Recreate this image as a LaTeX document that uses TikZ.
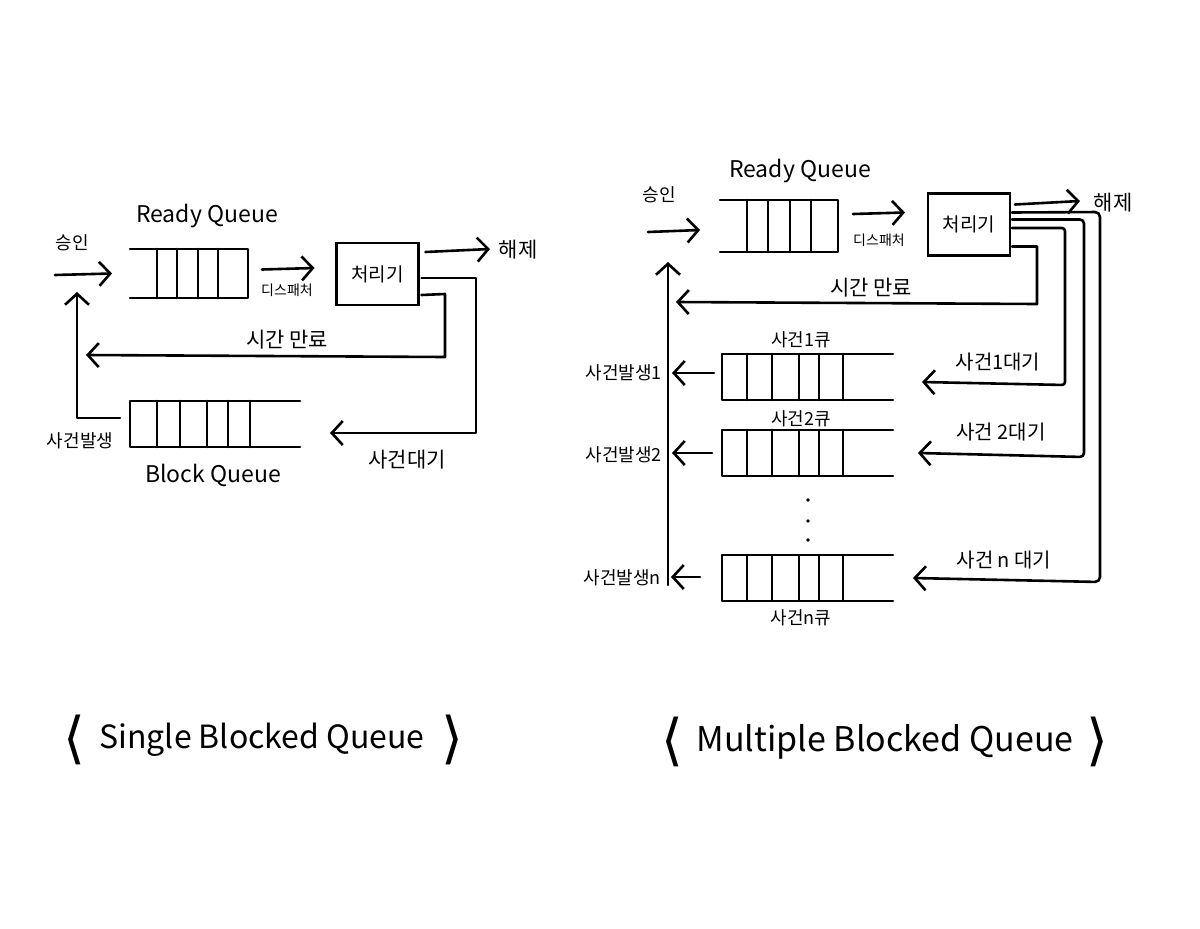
\documentclass[tikz,border=0pt]{standalone}
\usepackage{fontspec}
\setmainfont{Noto Sans CJK KR}
\newfontfamily\krfont{Noto Sans CJK KR}
\newfontfamily\brfont{DejaVu Sans}
\usetikzlibrary{arrows.meta,calc}
\tikzset{
  ln/.style={line width=2.6pt, line cap=round, line join=round},
  arr/.style={ln, -{Straight Barb[length=11pt,width=24pt]}},
  qnode/.style={draw=none, inner sep=0pt, outer sep=0pt, anchor=north west},
  proc/.style={draw, line width=2.6pt, inner sep=0pt, outer sep=0pt, minimum width=82, minimum height=62,
    font=\krfont\fontsize{19}{21}\selectfont},
  lbl/.style={font=\krfont\fontsize{18}{20}\selectfont, inner sep=0pt},
  wlbl/.style={font=\krfont\fontsize{20}{22}\selectfont, inner sep=0pt},
  biglbl/.style={font=\krfont\fontsize{21}{23}\selectfont, inner sep=0pt},
  small/.style={font=\krfont\fontsize{14}{16}\selectfont, inner sep=0pt},
  qtitle/.style={font=\krfont\fontsize{23}{26}\selectfont, inner sep=0pt},
  ttl/.style={font=\krfont\fontsize{32}{36}\selectfont, inner sep=0pt},
  brk/.style={font=\brfont\fontsize{56}{60}\selectfont, inner sep=0pt},
}
\begin{document}
\begin{tikzpicture}[x=1pt,y=-1pt]
\useasboundingbox[fill=white] (0,0) rectangle (1200,929);

% ================= LEFT : Single Blocked Queue =================
\node[qnode, minimum width=118, minimum height=49] (rq1) at (130,249) {};
\draw[ln] (rq1.north west) -- (rq1.north east) -- (rq1.south east) -- (rq1.south west);
\foreach \d in {27,47,68,88}
  \draw[ln] ($(rq1.north west)+(\d,0)$) -- ($(rq1.south west)+(\d,0)$);
\node[qtitle] (rq1t) at (207,216) {Ready Queue};

\node[proc] (proc1) at (377.5,274) {처리기};

\node[qnode, minimum width=170, minimum height=46] (bq1) at (130,401) {};
\draw[ln] (bq1.north east) -- (bq1.north west) -- (bq1.south west) -- (bq1.south east);
\foreach \d in {27,50,77,98,120}
  \draw[ln] ($(bq1.north west)+(\d,0)$) -- ($(bq1.south west)+(\d,0)$);
\node[qtitle] (bq1t) at (213,475) {Block Queue};

\coordinate (in1) at (55,275);
\coordinate (rel1) at (490,249);
\coordinate (te1) at (86,355);

\node[lbl] (adm1) at (72,243) {승인};
\draw[arr] (in1) -- ($(rq1.west)+(-18,0)$);
\draw[arr] ($(rq1.east)+(14,-4)$) -- ($(proc1.west)+(-22,-6)$);
\node[small] (disp1) at (287,290) {디스패처};
\draw[arr] ($(proc1.north east)+(7,9)$) -- (rel1);
\node[biglbl] (rel1t) at (518,250) {해제};
\draw[arr] ($(proc1.south east)+(3,-10)$) -- (445,294) -- (445,357) -- (te1);
\node[biglbl] (te1t) at (287,340) {시간 만료};
\draw[arr] ($(proc1.east)+(3,4)$) -- (476,278) -- (476,433) -- ($(bq1.east)+(30,9)$);
\node[biglbl] (wt1t) at (407,460) {사건대기};
\draw[arr] ($(bq1.west)+(-10,-6)$) -- (77,418) -- ($(in1)+(22,17)$);
\node[lbl] (oc1t) at (80,441) {사건발생};

% ================= RIGHT : Multiple Blocked Queue =================
\node[qnode, minimum width=118, minimum height=52] (rq2) at (720,200) {};
\draw[ln] (rq2.north west) -- (rq2.north east) -- (rq2.south east) -- (rq2.south west);
\foreach \d in {27,48,70,91}
  \draw[ln] ($(rq2.north west)+(\d,0)$) -- ($(rq2.south west)+(\d,0)$);
\node[qtitle] (rq2t) at (800,171) {Ready Queue};

\node[proc] (proc2) at (969,224.5) {처리기};

\foreach \q/\yy in {eq1/354, eq2/430, eqn/555}{
  \node[qnode, minimum width=171, minimum height=46] (\q) at (722,\yy) {};
  \draw[ln] (\q.north east) -- (\q.north west) -- (\q.south west) -- (\q.south east);
  \foreach \d in {25,50,77,97,121}
    \draw[ln] ($(\q.north west)+(\d,0)$) -- ($(\q.south west)+(\d,0)$);
}
\node[lbl] (eq1t) at (801,340) {사건1큐};
\node[lbl] (eq2t) at (801,419) {사건2큐};
\node[lbl] (eqnt) at (801,618) {사건n큐};
\fill (808,500) circle (1.8pt);
\fill (808,521) circle (1.8pt);
\fill (808,540) circle (1.8pt);

\coordinate (in2) at (648,232);
\coordinate (rel2) at (1080,201);
\coordinate (te2) at (676,302);
\coordinate (mv0) at (668,585);
\coordinate (mv1) at (668,262);

\node[lbl] (adm2) at (659,195) {승인};
\draw[arr] (in2) -- ($(rq2.west)+(-20,4)$);
\draw[arr] ($(rq2.east)+(15,-12)$) -- ($(proc2.west)+(-23,-12)$);
\node[small] (disp2) at (879,240) {디스패처};
\draw[arr] ($(proc2.east)+(5,-20)$) -- (rel2);
\node[biglbl] (rel2t) at (1113,203) {해제};

% lines from processor
\draw[arr, rounded corners=5pt] ($(proc2.east)+(2,-12)$) -- (1100,212) -- (1100,582) -- ($(eqn.east)+(20,0)$);
\draw[arr, rounded corners=4pt] ($(proc2.east)+(2,-5)$) -- (1084,219.5) -- (1084,457) -- ($(eq2.east)+(25,0)$);
\draw[arr, rounded corners=3pt] ($(proc2.east)+(2,3.5)$) -- (1065,228) -- (1065,385) -- ($(eq1.east)+(29,5)$);
\draw[arr] ($(proc2.east)+(2,22)$) -- (1037,246.5) -- (1037,304) -- (te2);
\node[biglbl] (te2t) at (871,288) {시간 만료};
\node[wlbl] (w1t) at (998,362) {사건1대기};
\node[wlbl] (w2t) at (1001,432) {사건 2대기};
\node[wlbl] (wnt) at (1004,560) {사건 n 대기};

% main return line
\draw[arr] (mv0) -- (mv1);
\draw[arr] ($(eq1.west)+(-8,-4)$) -- ($(eq1.west)+(-50,-4)$);
\draw[arr] ($(eq2.west)+(-10,0)$) -- ($(eq2.west)+(-50,0)$);
\draw[arr] ($(eqn.west)+(-22,-1)$) -- ($(eqn.west)+(-51,-1)$);
\node[lbl, anchor=east] (o1t) at (662,373) {사건발생1};
\node[lbl, anchor=east] (o2t) at (662,455) {사건발생2};
\node[lbl, anchor=east] (ont) at (661,578) {사건발생n};

% ================= Titles =================
\node[brk] (t1l) at (74,740) {⟨};
\node[ttl] (t1) at (262,740) {Single Blocked Queue};
\node[brk] (t1r) at (452,740) {⟩};
\node[brk] (t2l) at (672,742) {⟨};
\node[ttl, font=\krfont\fontsize{34}{38}\selectfont] (t2) at (885,742) {Multiple Blocked Queue};
\node[brk] (t2r) at (1097,742) {⟩};
\end{tikzpicture}
\end{document}
